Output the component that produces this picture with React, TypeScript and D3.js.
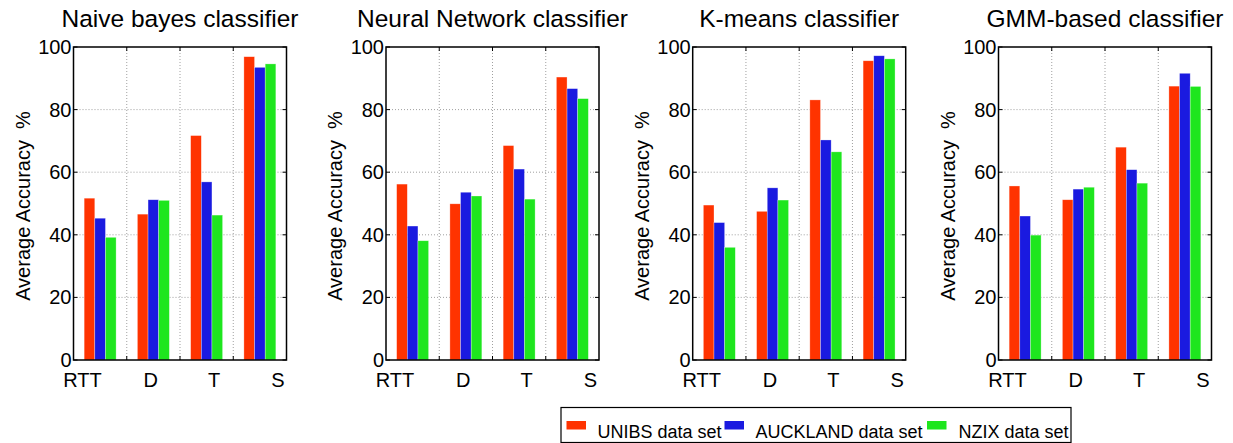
import React from "react";
import * as d3 from "d3";

const categories = ["RTT", "D", "T", "S"];
const seriesNames = ["UNIBS data set", "AUCKLAND data set", "NZIX data set"];
const seriesColors = ["#ff3300", "#1a1ae0", "#1ee61e"];
const titles = ["Naive bayes classifier", "Neural Network classifier", "K-means classifier", "GMM-based classifier"];
const yTicks = [0, 20, 40, 60, 80, 100];
const yLabel = "Average Accuracy  %";

// values per series: [RTT, D, T, S]
const naiveBayes = [
  [51.7, 46.6, 71.7, 96.9],
  [45.3, 51.2, 56.9, 93.5],
  [39.2, 51.0, 46.3, 94.6],
];
const neuralNetwork = [
  [56.2, 49.9, 68.5, 90.4],
  [42.8, 53.6, 61.0, 86.7],
  [38.1, 52.4, 51.4, 83.5],
];
const kMeans = [
  [49.5, 47.5, 83.1, 95.6],
  [43.9, 55.0, 70.3, 97.2],
  [36.0, 51.1, 66.5, 96.2],
];
const gmm = [
  [55.6, 51.2, 68.0, 87.5],
  [46.0, 54.6, 60.8, 91.6],
  [39.9, 55.2, 56.5, 87.4],
];
const panelData = [naiveBayes, neuralNetwork, kMeans, gmm];
// x positions (in category units) where the tick labels sit
const tickLabelAt = [0.67, 1.95, 3.14, 4.34];

const W = 1233;
const H = 443;
const panelLefts = [73.5, 386, 692.7, 998.5];
const panelW = 213;
const top = 47;
const bottom = 360;
const FONT = "'Liberation Sans', Arial, Helvetica, sans-serif";

function Panel({ idx }: { idx: number }) {
  const left = panelLefts[idx];
  const x = d3.scaleLinear().domain([0.5, 4.5]).range([left, left + panelW]);
  const y = d3.scaleLinear().domain([0, 100]).range([bottom, top]);
  const data = panelData[idx];
  const barW = 0.2;
  const gridX = [1.5, 2.5, 3.5];
  return (
    <g>
      <text x={left + panelW / 2} y={27} textAnchor="middle" fontSize={24.5} fontFamily={FONT}>
        {titles[idx]}
      </text>
      {yTicks.filter((t) => t > 0 && t < 100).map((t) => (
        <line key={"gy" + t} x1={left} x2={left + panelW} y1={y(t)} y2={y(t)} stroke="#888" strokeWidth={0.8} strokeDasharray="1,2" />
      ))}
      {gridX.map((g) => (
        <line key={"gx" + g} x1={x(g)} x2={x(g)} y1={top} y2={bottom} stroke="#888" strokeWidth={0.8} strokeDasharray="1,2" />
      ))}
      {categories.map((c, ci) =>
        data.map((vals, si) => {
          const x0 = ci + 1 - 0.3 + si * barW;
          return (
            <rect
              key={c + si}
              x={x(x0)}
              y={y(vals[ci])}
              width={x(x0 + barW) - x(x0)}
              height={y(0) - y(vals[ci])}
              fill={seriesColors[si]}
              stroke="rgba(255,255,255,0.5)"
              strokeWidth={0.6}
            />
          );
        })
      )}
      {yTicks.map((t) => (
        <g key={"ty" + t}>
          <line x1={left} x2={left + 4} y1={y(t)} y2={y(t)} stroke="#000" strokeWidth={1} />
          <line x1={left + panelW - 4} x2={left + panelW} y1={y(t)} y2={y(t)} stroke="#000" strokeWidth={1} />
          <text x={left - 2} y={y(t) + 7} textAnchor="end" fontSize={20} fontFamily={FONT}>
            {t}
          </text>
        </g>
      ))}
      {gridX.map((g) => (
        <g key={"tx" + g}>
          <line x1={x(g)} x2={x(g)} y1={bottom} y2={bottom - 4} stroke="#000" strokeWidth={1} />
          <line x1={x(g)} x2={x(g)} y1={top} y2={top + 4} stroke="#000" strokeWidth={1} />
        </g>
      ))}
      {categories.map((c, ci) => (
        <text key={"xl" + c} x={x(tickLabelAt[ci])} y={387} textAnchor="middle" fontSize={20} fontFamily={FONT}>
          {c}
        </text>
      ))}
      <rect x={left} y={top} width={panelW} height={bottom - top} fill="none" stroke="#000" strokeWidth={1.5} />
      <text
        transform={`translate(${left - 44},${(top + bottom) / 2 + 2.5}) rotate(-90)`}
        textAnchor="middle"
        fontSize={20}
        fontFamily={FONT}
        style={{ whiteSpace: "pre" }}
        xmlSpace="preserve"
      >
        {yLabel}
      </text>
    </g>
  );
}

export default function App() {
  const legendX = [566.5, 724.5, 927];
  const legendTextX = [597.5, 755.5, 958.5];
  return (
    <svg width={W} height={H} style={{ position: "absolute", left: 0, top: 0, background: "#fff" }}>
      <rect x={0} y={0} width={W} height={H} fill="#fff" />
      {titles.map((_, i) => (
        <Panel key={i} idx={i} />
      ))}
      <rect x={561} y={407.5} width={510} height={35} fill="#fff" stroke="#000" strokeWidth={1.2} />
      {seriesNames.map((s, i) => (
        <g key={s}>
          <rect x={legendX[i]} y={421} width={19.5} height={8.5} fill={seriesColors[i]} />
          <text x={legendTextX[i]} y={438} fontSize={18} fontFamily={FONT}>
            {s}
          </text>
        </g>
      ))}
    </svg>
  );
}
